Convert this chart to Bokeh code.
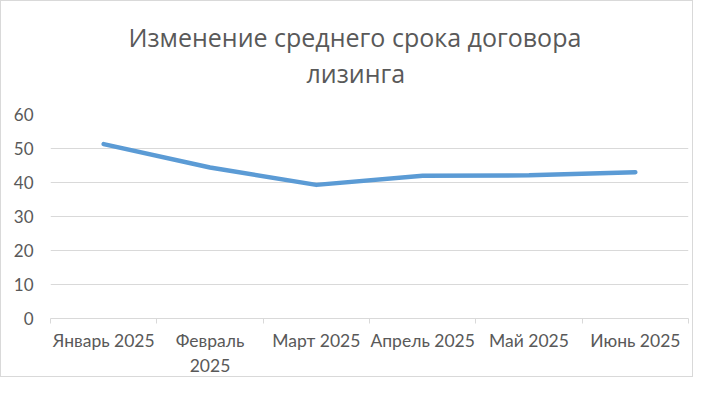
from bokeh.plotting import figure
from bokeh.models import FixedTicker, Range1d, Title
from bokeh.embed import file_html
from bokeh.resources import INLINE

title_lines = ["Изменение среднего срока договора", "лизинга"]
categories = ["Январь 2025", "Февраль\n2025", "Март 2025", "Апрель 2025", "Май 2025", "Июнь 2025"]
values = [51.3, 44.4, 39.3, 42.0, 42.1, 43.0]
y_ticks = [0, 10, 20, 30, 40, 50, 60]

xs = [i + 0.5 for i in range(len(categories))]
GREY = "#595959"

p = figure(width=693, height=377, output_backend="svg", toolbar_location=None,
           x_range=Range1d(0, len(categories)), y_range=Range1d(0, 60),
           min_border_left=49, min_border_right=6, min_border_top=113, min_border_bottom=55)
p.outline_line_color = None
p.border_fill_color = "white"
p.styles = {"border": "1px solid #d9d9d9"}
p.title = None

# spacer between title and plot area, then the two title lines
p.add_layout(Title(text=" ", text_font_size="1px", standoff=22), "above")
p.add_layout(Title(text=title_lines[1], align="left", offset=256, text_font="Open Sans",
                   text_font_size="25px", text_font_style="normal", text_color=GREY,
                   standoff=0), "above")
p.add_layout(Title(text=title_lines[0], align="left", offset=78, text_font="Open Sans",
                   text_font_size="25px", text_font_style="normal", text_color=GREY,
                   standoff=0), "above")

p.line(xs, values, line_color="#5b9bd5", line_width=4.5, line_cap="round", line_join="round")

p.xaxis.ticker = FixedTicker(ticks=xs, minor_ticks=list(range(len(categories) + 1)))
p.xaxis.major_label_overrides = {x: c for x, c in zip(xs, categories)}
p.xaxis.major_tick_line_color = None
p.xaxis.minor_tick_line_color = "#d9d9d9"
p.xaxis.minor_tick_out = 5
p.xaxis.minor_tick_in = 0
p.xaxis.axis_line_color = "#d9d9d9"
p.xaxis.major_label_text_font = "Lato"
p.xaxis.major_label_text_font_size = "17.5px"
p.xaxis.major_label_text_color = GREY
p.xaxis.major_label_standoff = 5
p.xgrid.grid_line_color = None

p.yaxis.ticker = FixedTicker(ticks=y_ticks)
p.yaxis.axis_line_color = None
p.yaxis.major_tick_line_color = None
p.yaxis.minor_tick_line_color = None
p.yaxis.major_label_text_font = "Lato"
p.yaxis.major_label_text_font_size = "17px"
p.yaxis.major_label_text_color = GREY
p.yaxis.major_label_standoff = 11
p.ygrid.grid_line_color = "#d9d9d9"
p.ygrid.grid_line_width = 1

open("out.html", "w").write(file_html(p, INLINE))
